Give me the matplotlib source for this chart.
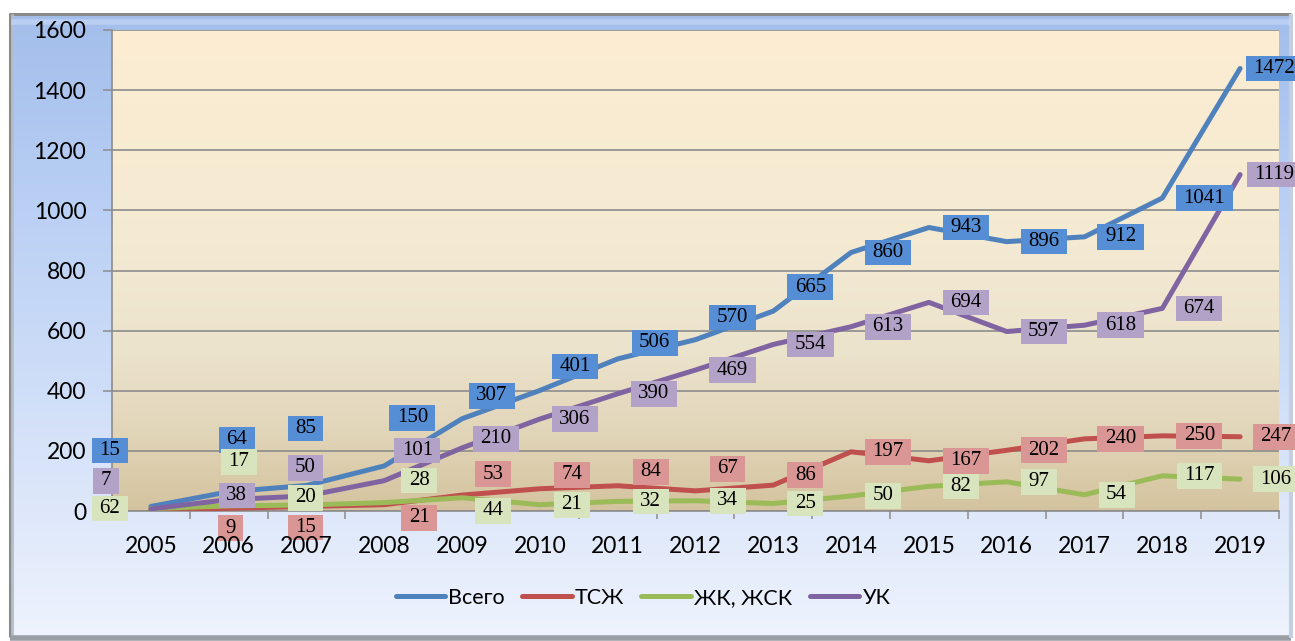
import numpy as np
import matplotlib
matplotlib.use("Agg")
import matplotlib.pyplot as plt
from matplotlib.path import Path
from matplotlib.colors import LinearSegmentedColormap
from matplotlib.lines import Line2D

# ---------------- data ----------------
years = [str(y) for y in range(2005, 2020)]
total = [15, 64, 85, 150, 307, 401, 506, 570, 665, 860, 943, 896, 912, 1041, 1472]
tszh = [0, 9, 15, 21, 53, 74, 84, 67, 86, 197, 167, 202, 240, 250, 247]
zhk = [8, 17, 20, 28, 44, 21, 32, 34, 25, 50, 82, 97, 54, 117, 106]
uk = [7, 38, 50, 101, 210, 306, 390, 469, 554, 613, 694, 597, 618, 674, 1119]
series_names = ["Всего", "ТСЖ", "ЖК, ЖСК", "УК"]

# label texts (as printed on the chart)
total_txt = [str(v) for v in total]
tszh_txt = [""] + [str(v) for v in tszh[1:]]
zhk_txt = ["62"] + [str(v) for v in zhk[1:]]
uk_txt = [str(v) for v in uk]

# label offsets from their points (pixels: dx right, dy down)
total_dx = [-41, 8, -1, 28, 30, 35, 37, 37, 37, 37, 37, 37, 36, 42, 34]
total_dy = [-56, -52, -57, -48, -23, -24, -16, -22, -24, 0, 0, 0, 0, 0, 0]
tszh_dx = [0, 2, -1, 35, 31, 32, 33, 32, 32, 37, 37, 37, 36, 37, 36]
tszh_dy = [0, 20, 21, 13, -21, -14, -14, -22, -10, 0, 0, 0, 0, 0, 0]
zhk_dx = [-41, 10, -1, 35, 31, 32, 33, 32, 32, 32, 32, 32, 32, 37, 36]
zhk_dy = [0, -44, -7, -22, 13, 0, 0, 0, 0, 0, 0, 0, 0, 0, 0]
uk_dx = [-45, 8, -1, 33, 34, 35, 36, 37, 37, 37, 37, 37, 36, 37, 34]
uk_dy = [-28, -4, -28, -30, -9, 0, 0, 0, 0, 0, 0, 0, 0, 0, 0]

# ---------------- style ----------------
W, H = 1295, 641
line_colors = ["#4F81BD", "#C0504D", "#9BBB59", "#8064A2"]
box_colors = ["#558ED5", "#D99694", "#D7E4BD", "#B3A2C7"]
grid_col = "#8C8C8C"
sans = ["Lato", "Open Sans", "DejaVu Sans"]
serif = ["Liberation Serif", "DejaVu Serif"]

fig = plt.figure(figsize=(W / 100, H / 100), dpi=100)
fig.patch.set_facecolor("white")

# background / frame
bg = fig.add_axes([0, 0, 1, 1], zorder=-10)
bg.set_xlim(0, W)
bg.set_ylim(H, 0)
bg.axis("off")
outer_cmap = LinearSegmentedColormap.from_list(
    "outer", [(0.0, "#A3BEEB"), (0.3, "#B9CFF4"), (0.6, "#CFDEF8"),
              (0.8, "#DEE8FA"), (1.0, "#EEF3FD")])
grad = np.linspace(0, 1, 256).reshape(-1, 1)
bg.imshow(grad, cmap=outer_cmap, extent=[10, 1291, 636, 14], aspect="auto",
          interpolation="bilinear")
bg.plot([9, 1291], [13.5, 13.5], color="#8A8A8A", lw=2.2, solid_capstyle="butt")
bg.plot([9.5, 9.5], [13, 637], color="#8A8A8A", lw=2.2, solid_capstyle="butt")
bg.plot([12, 12], [14, 636], color="#B5BDC8", lw=2, solid_capstyle="butt")
bg.plot([10, 1291], [638, 638], color="#9A9FA6", lw=4, solid_capstyle="butt")
bg.plot([1291, 1291], [14, 638], color="#C4CFDF", lw=3, solid_capstyle="butt")
bg.plot([14, 1288], [22, 22], color="#C8DBF9", lw=4, alpha=0.6)

# plot area
x0, x1, yt, yb = 112, 1279, 30, 511
ax = fig.add_axes([x0 / W, 1 - yb / H, (x1 - x0) / W, (yb - yt) / H])
n = len(years)
xs = np.arange(n)

inner_cmap = LinearSegmentedColormap.from_list(
    "inner", [(0.0, "#D4C39E"), (0.17, "#E2D6BA"), (0.33, "#ECE3CC"),
              (0.55, "#F4EAD3"), (1.0, "#FCEDD2")])
ax.imshow(grad, cmap=inner_cmap, extent=[-0.5, n - 0.5, 0, 1600], aspect="auto",
          origin="lower", interpolation="bilinear", zorder=0)
ax.set_xlim(-0.5, n - 0.5)
ax.set_ylim(0, 1600)

ax.set_yticks(np.arange(0, 1601, 200))
ax.yaxis.grid(True, color=grid_col, lw=1.2, zorder=1)
ax.set_axisbelow(True)
ax.tick_params(axis="y", length=6.5, width=1.1, color=grid_col, pad=12,
               labelsize=16.5)
for lab in ax.get_yticklabels():
    lab.set_family(sans)

ax.set_xticks(xs)
ax.set_xticklabels(years, family=sans, fontsize=16.5)
ax.tick_params(axis="x", which="major", length=0, pad=18)
ax.xaxis.set_zorder(6)   # year labels drawn above the data-label boxes

# category boundary tick marks (below the data-label boxes)
bounds = np.arange(-0.5, n, 1.0)
ax.vlines(bounds, -8 / (yb - yt), 0, transform=ax.get_xaxis_transform(),
          colors=grid_col, lw=1.1, clip_on=False, zorder=2)

for s in ["top", "right"]:
    ax.spines[s].set_visible(False)
for s in ["left", "bottom"]:
    ax.spines[s].set_color(grid_col)
    ax.spines[s].set_linewidth(1.2)

all_vals = [total, tszh, zhk, uk]
for vals, col, name in zip(all_vals, line_colors, series_names):
    ax.plot(xs, vals, color=col, lw=3.6, solid_capstyle="round",
            solid_joinstyle="round", zorder=3, label=name)


def wide_box(x0, y0, width, height, mutation_size):
    px = 0.36 * mutation_size
    py = 0.16 * mutation_size
    xa, ya = x0 - px, y0 - py
    xb, yb2 = x0 + width + px, y0 + height + py
    return Path([(xa, ya), (xb, ya), (xb, yb2), (xa, yb2), (xa, ya)], closed=True)


label_sets = [
    (total, total_txt, total_dx, total_dy, box_colors[0]),
    (tszh, tszh_txt, tszh_dx, tszh_dy, box_colors[1]),
    (zhk, zhk_txt, zhk_dx, zhk_dy, box_colors[2]),
    (uk, uk_txt, uk_dx, uk_dy, box_colors[3]),
]
for vals, txts, dxs, dys, bcol in label_sets:
    for i, (v, t, dx, dy) in enumerate(zip(vals, txts, dxs, dys)):
        if not t:
            continue
        ax.annotate(t, xy=(i, v), xytext=(dx, -dy), textcoords="offset pixels",
                    ha="center", va="center", fontsize=15, family=serif,
                    color="black", annotation_clip=False, zorder=5,
                    bbox=dict(boxstyle=wide_box, fc=bcol, ec="none"))

handles = [Line2D([], [], color=c, lw=3.6, solid_capstyle="round")
           for c in line_colors]
leg = fig.legend(handles, series_names, loc="center",
                 bbox_to_anchor=(643 / W, 1 - 598 / H), ncol=4, frameon=False,
                 prop={"family": sans, "size": 15.5}, handlelength=2.3,
                 handletextpad=0.15, columnspacing=0.8)

fig.savefig("out.png", dpi=100)
